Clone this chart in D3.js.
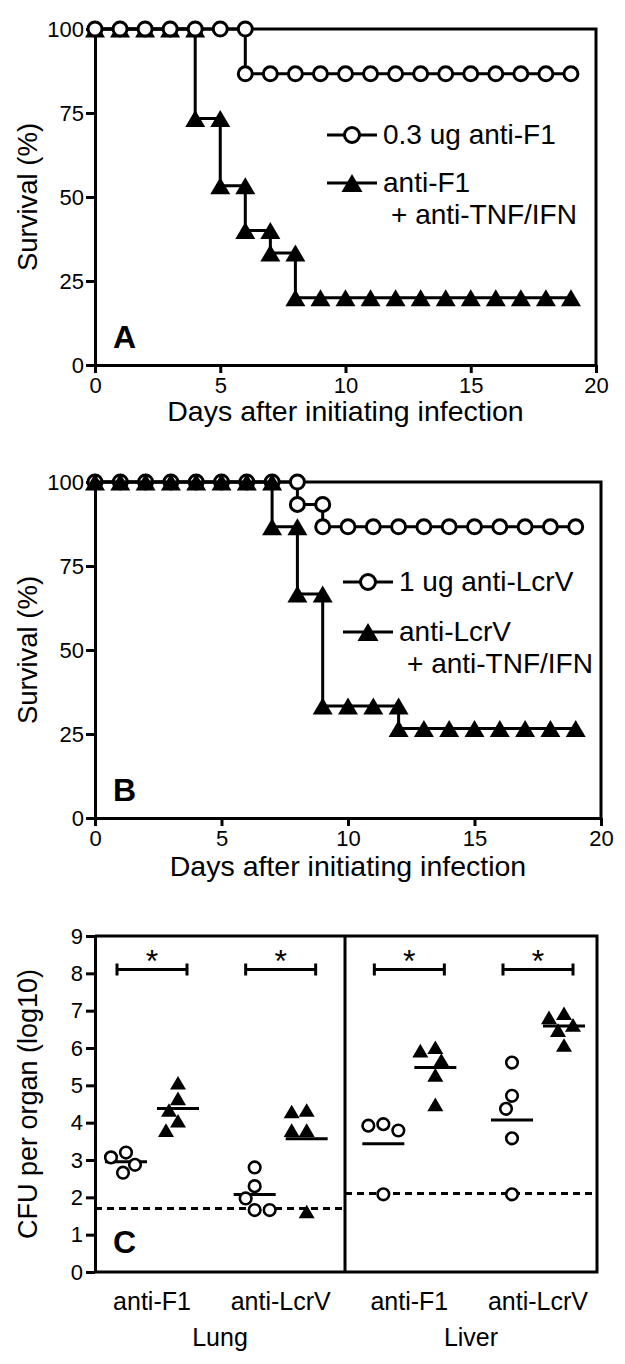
<!DOCTYPE html>
<meta charset="utf-8">
<style>
  body { margin: 0; background: #fff; }
  svg text { font-family: "Liberation Sans", Arial, sans-serif; fill: #000; }
</style>
<script src="https://d3js.org/d3.v7.min.js"></script>
<div id="chart"></div>
<script>
// ---- data ----
const days = [0, 1, 2, 3, 4, 5, 6, 7, 8, 9, 10, 11, 12, 13, 14, 15, 16, 17, 18, 19];
const dayTicks = [0, 5, 10, 15, 20];
const survivalTicks = [0, 25, 50, 75, 100];

// panel A, survival (%) per day
const survA_antiF1 = [100, 100, 100, 100, 100, 100, 86.67, 86.67, 86.67, 86.67, 86.67, 86.67, 86.67, 86.67, 86.67, 86.67, 86.67, 86.67, 86.67, 86.67];
const survA_antiF1_tnf = [100, 100, 100, 100, 73.33, 53.33, 40, 33.33, 20, 20, 20, 20, 20, 20, 20, 20, 20, 20, 20, 20];
// panel B
const survB_antiLcrV = [100, 100, 100, 100, 100, 100, 100, 100, 93.33, 86.67, 86.67, 86.67, 86.67, 86.67, 86.67, 86.67, 86.67, 86.67, 86.67, 86.67];
const survB_antiLcrV_tnf = [100, 100, 100, 100, 100, 100, 100, 86.67, 66.67, 33.33, 33.33, 33.33, 26.67, 26.67, 26.67, 26.67, 26.67, 26.67, 26.67, 26.67];

// panel C, CFU per organ (log10)
const organs = ["Lung", "Liver"];
const groups = ["lung-F1", "lung-LcrV", "liver-F1", "liver-LcrV"];
const groupLabels = ["anti-F1", "anti-LcrV", "anti-F1", "anti-LcrV"];
const cfuTicks = [0, 1, 2, 3, 4, 5, 6, 7, 8, 9];
const cfuAntibody = [
  [3.20, 3.07, 2.87, 2.66],
  [2.80, 2.30, 1.97, 1.66, 1.66],
  [3.96, 3.92, 3.79, 2.08],
  [5.61, 4.72, 4.37, 3.58, 2.08]
];
const cfuCombo = [
  [5.07, 4.65, 4.34, 4.05, 3.80],
  [4.34, 4.30, 3.80, 3.80, 1.62],
  [6.02, 5.93, 5.68, 5.28, 4.49],
  [6.93, 6.82, 6.62, 6.48, 6.08]
];
const detectionLimit = [1.7, 2.1];   // lung, liver
const sigLevel = 8.1;

// ---- drawing ----
const svg = d3.select("#chart").append("svg")
  .attr("width", 625).attr("height", 1364);

// triangle centred on its bounding box
const triType = {
  draw(ctx, size) {
    const w = Math.sqrt(size), h = w * 0.85;
    ctx.moveTo(0, -h / 2);
    ctx.lineTo(w / 2, h / 2);
    ctx.lineTo(-w / 2, h / 2);
    ctx.closePath();
  }
};
const circleSym = r => d3.symbol().type(d3.symbolCircle).size(Math.PI * r * r)();
const triSym = w => d3.symbol().type(triType).size(w * w)();

function styleAxis(sel, fs) {
  sel.selectAll("path, line").attr("stroke", "#000").attr("stroke-width", 3);
  sel.selectAll("text").attr("font-size", fs).attr("fill", "#000")
    .style("font-family", '"Liberation Sans", Arial, sans-serif');
}

function drawSurvival(p) {
  const x = d3.scaleLinear().domain([0, 20]).range([p.left, p.right]);
  const y = d3.scaleLinear().domain([0, 100]).range([p.bottom, p.top]);
  const g = svg.append("g");

  // frame top/right
  g.append("path")
    .attr("d", `M${x(0)},${y(100)}H${x(20)}V${y(0)}`)
    .attr("fill", "none").attr("stroke", "#000").attr("stroke-width", 3);

  g.append("g").attr("transform", `translate(0,${y(0)})`)
    .call(d3.axisBottom(x).tickValues(dayTicks).tickSize(8).tickPadding(4).tickSizeOuter(0))
    .call(styleAxis, 22);
  g.append("g").attr("transform", `translate(${x(0)},0)`)
    .call(d3.axisLeft(y).tickValues(survivalTicks).tickSize(9).tickPadding(2).tickSizeOuter(0))
    .call(styleAxis, 22);

  const line = d3.line().x((d, i) => x(days[i])).y(d => y(d)).curve(d3.curveStepAfter);

  const circ = { vals: p.circle, shape: "circle" };
  const tri = { vals: p.tri, shape: "tri" };
  const order = p.circlesOnTop ? [tri, circ] : [circ, tri];

  order.forEach(s => {
    g.append("path").datum(s.vals).attr("d", line)
      .attr("fill", "none").attr("stroke", "#000").attr("stroke-width", 3);
    const pts = [];
    s.vals.forEach((v, i) => {
      if (i > 0 && v !== s.vals[i - 1]) pts.push([days[i], s.vals[i - 1]]);
      pts.push([days[i], v]);
    });
    g.selectAll(null).data(pts).enter().append("path")
      .attr("transform", d => `translate(${x(d[0])},${y(d[1])})`)
      .attr("d", s.shape === "circle" ? circleSym(7) : triSym(20))
      .attr("fill", s.shape === "circle" ? "#fff" : "#000")
      .attr("stroke", "#000").attr("stroke-width", s.shape === "circle" ? 3 : 0);
  });

  // legend
  const L = p.legend;
  [[L.y1, "circle"], [L.y2, "tri"]].forEach(([ly, shape]) => {
    g.append("line").attr("x1", L.x).attr("x2", L.x + 50).attr("y1", ly).attr("y2", ly)
      .attr("stroke", "#000").attr("stroke-width", 3);
    g.append("path").attr("transform", `translate(${L.x + 25},${ly})`)
      .attr("d", shape === "circle" ? circleSym(7.5) : triSym(21))
      .attr("fill", shape === "circle" ? "#fff" : "#000")
      .attr("stroke", "#000").attr("stroke-width", shape === "circle" ? 3 : 0);
  });
  g.append("text").attr("x", L.x + 56).attr("y", L.y1 + 9).attr("font-size", 28).text(L.t1);
  g.append("text").attr("x", L.x + 56).attr("y", L.y2 + 9).attr("font-size", 28).text(L.t2);
  g.append("text").attr("x", L.x + 64).attr("y", L.y2 + 41).attr("font-size", 28).text(L.t3);

  // panel letter
  g.append("text").attr("x", x(0) + 18).attr("y", y(0) - 17)
    .attr("font-size", 32).attr("font-weight", "bold").text(p.letter);

  // axis titles
  g.append("text").attr("x", (x(0) + x(20)) / 2).attr("y", p.titleY)
    .attr("text-anchor", "middle").attr("font-size", 28.5).text("Days after initiating infection");
  g.append("text")
    .attr("transform", `translate(37,${(y(0) + y(100)) / 2}) rotate(-90)`)
    .attr("text-anchor", "middle").attr("font-size", 27.5).text("Survival (%)");
}

drawSurvival({
  left: 95, right: 596, top: 29, bottom: 365,
  circle: survA_antiF1, tri: survA_antiF1_tnf, circlesOnTop: true,
  legend: { x: 327, y1: 135, y2: 183, t1: "0.3 ug anti-F1", t2: "anti-F1", t3: "+ anti-TNF/IFN" },
  letter: "A", titleY: 421
});
drawSurvival({
  left: 95, right: 601, top: 482, bottom: 818,
  circle: survB_antiLcrV, tri: survB_antiLcrV_tnf, circlesOnTop: false,
  legend: { x: 343, y1: 582, y2: 632, t1: "1 ug anti-LcrV", t2: "anti-LcrV", t3: "+ anti-TNF/IFN" },
  letter: "B", titleY: 876
});

// ---- panel C ----
(function () {
  const left = 95, right = 597;
  const y = d3.scaleLinear().domain([0, 9]).range([1272, 936]);
  const x = d3.scalePoint().domain(groups).range([152, 538]);
  const off = 26;
  const g = svg.append("g");
  const divider = (x(groups[1]) + x(groups[2])) / 2;

  g.append("path")
    .attr("d", `M${left},${y(9)}H${right}V${y(0)}H${left}M${divider},${y(9)}V${y(0)}`)
    .attr("fill", "none").attr("stroke", "#000").attr("stroke-width", 3);
  g.append("g").attr("transform", `translate(${left},0)`)
    .call(d3.axisLeft(y).tickValues(cfuTicks).tickSize(9).tickPadding(3).tickSizeOuter(0))
    .call(styleAxis, 22);

  // detection limits
  [[left, divider, detectionLimit[0]], [divider, right, detectionLimit[1]]].forEach(([a, b, v]) => {
    g.append("line").attr("x1", a).attr("x2", b).attr("y1", y(v)).attr("y2", y(v))
      .attr("stroke", "#000").attr("stroke-width", 3).attr("stroke-dasharray", "7,5");
  });

  function swarm(values, cx, w, h) {
    const placed = [];
    return values.map(v => {
      const py = y(v);
      let dx = 0;
      for (let i = 0; i < 60; i++) {
        dx = i === 0 ? 0 : (i % 2 ? -1 : 1) * Math.ceil(i / 2) * 3;
        if (placed.every(q => ((q.x - dx) / w) ** 2 + ((q.y - py) / h) ** 2 >= 1)) break;
      }
      placed.push({ x: dx, y: py });
      return { x: cx + dx, y: py };
    });
  }

  groups.forEach((grp, gi) => {
    const c = x(grp);
    [[cfuAntibody[gi], c - off, "circle"], [cfuCombo[gi], c + off, "tri"]].forEach(([vals, bx, shape]) => {
      const m = d3.mean(vals);
      g.append("line").attr("x1", bx - 21).attr("x2", bx + 21).attr("y1", y(m)).attr("y2", y(m))
        .attr("stroke", "#000").attr("stroke-width", 3);
      const pts = swarm(vals, bx, shape === "circle" ? 14 : 15, shape === "circle" ? 14 : 13);
      g.selectAll(null).data(pts).enter().append("path")
        .attr("transform", d => `translate(${d.x},${d.y})`)
        .attr("d", shape === "circle" ? circleSym(5.8) : triSym(16))
        .attr("fill", shape === "circle" ? "#fff" : "#000")
        .attr("stroke", "#000").attr("stroke-width", shape === "circle" ? 2.6 : 0);
    });

    // significance bar
    const yb = y(sigLevel);
    g.append("path")
      .attr("d", `M${c - 35},${yb}H${c + 35}M${c - 35},${yb - 6}V${yb + 6}M${c + 35},${yb - 6}V${yb + 6}`)
      .attr("fill", "none").attr("stroke", "#000").attr("stroke-width", 3);
    g.append("text").attr("x", c).attr("y", yb + 2).attr("text-anchor", "middle")
      .attr("font-size", 32).text("*");

    g.append("text").attr("x", c).attr("y", 1310).attr("text-anchor", "middle")
      .attr("font-size", 25).text(groupLabels[gi]);
  });

  [[left, divider], [divider, right]].forEach(([a, b], i) => {
    g.append("text").attr("x", (a + b) / 2).attr("y", 1346).attr("text-anchor", "middle")
      .attr("font-size", 25).text(organs[i]);
  });

  g.append("text").attr("x", left + 18).attr("y", 1253)
    .attr("font-size", 32).attr("font-weight", "bold").text("C");
  g.append("text")
    .attr("transform", `translate(37,${(y(0) + y(9)) / 2}) rotate(-90)`)
    .attr("text-anchor", "middle").attr("font-size", 27).text("CFU per organ (log10)");
})();
</script>
